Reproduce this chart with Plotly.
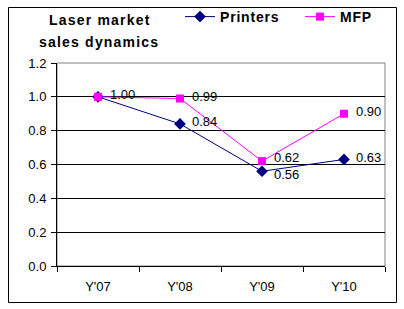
import plotly.graph_objects as go

categories = ["Y'07", "Y'08", "Y'09", "Y'10"]
printers = [1.00, 0.84, 0.56, 0.63]
mfp = [1.00, 0.99, 0.62, 0.90]
printers_labels = ["", "0.84", "0.56", "0.63"]
mfp_labels = ["1.00", "0.99", "0.62", "0.90"]
y_ticks = [0.0, 0.2, 0.4, 0.6, 0.8, 1.0, 1.2]

FONT = "Liberation Sans, Arial, sans-serif"

def spaced(s, ls=1.2):
    return '<span style="letter-spacing:%spx">%s</span>' % (ls, s)

fig = go.Figure()
fig.add_trace(go.Scatter(
    x=categories, y=printers, name=spaced("Printers", 0.8), mode="lines+markers",
    line=dict(color="#000080", width=1),
    marker=dict(symbol="diamond", size=9, color="#000080"),
    cliponaxis=False,
))
fig.add_trace(go.Scatter(
    x=categories, y=mfp, name=spaced("MFP", 0.8), mode="lines+markers",
    line=dict(color="#FF00FF", width=1),
    marker=dict(symbol="square", size=8, color="#FF00FF"),
    cliponaxis=False,
))

L, R, T, B = 57, 19, 63, 43
W, H = 404, 309
pw, ph = W - L - R, H - T - B

def px_x(p):
    return (p - L) / pw

def px_y(p):
    return (H - B - p) / ph

annotations = []
label_font = dict(family=FONT, size=13, color="black")
for i, (c, v, t) in enumerate(zip(categories, printers, printers_labels)):
    if t:
        ys = -3 if i == 2 else 2
        annotations.append(dict(x=c, y=v, xref="x", yref="y", text=t, showarrow=False,
                                xanchor="left", yanchor="middle", xshift=10, yshift=ys,
                                font=label_font))
for i, (c, v, t) in enumerate(zip(categories, mfp, mfp_labels)):
    if t:
        ys = 4 if i == 2 else 2
        annotations.append(dict(x=c, y=v, xref="x", yref="y", text=t, showarrow=False,
                                xanchor="left", yanchor="middle", xshift=10, yshift=ys,
                                font=label_font))

title_font = dict(family=FONT, size=14, color="black", weight="bold")
annotations.append(dict(text=spaced("Laser market"), xref="paper", yref="paper",
                        x=px_x(100), y=px_y(20), xanchor="center", yanchor="middle",
                        showarrow=False, font=title_font))
annotations.append(dict(text=spaced("sales dynamics"), xref="paper", yref="paper",
                        x=px_x(99), y=px_y(42), xanchor="center", yanchor="middle",
                        showarrow=False, font=title_font))

fig.update_layout(
    width=W, height=H,
    margin=dict(l=L, r=R, t=T, b=B, autoexpand=False),
    paper_bgcolor="white", plot_bgcolor="white",
    font=dict(family=FONT, size=13, color="black"),
    showlegend=True,
    legend=dict(
        orientation="h", xref="container", yref="container",
        x=180 / W, y=(H - 17) / H, xanchor="left", yanchor="middle",
        font=dict(family=FONT, size=14, color="black", weight="bold"),
        bgcolor="rgba(0,0,0,0)", itemwidth=30, tracegroupgap=0,
        entrywidth=75, entrywidthmode="pixels",
    ),
    xaxis=dict(
        type="category", range=[-0.5, 3.5],
        showline=True, linecolor="black", linewidth=1,
        ticks="outside", tickson="boundaries", ticklen=5, tickcolor="black",
        showgrid=False, zeroline=False, ticklabelstandoff=8,
        tickfont=dict(family=FONT, size=13, color="black"),
    ),
    yaxis=dict(
        range=[0, 1.2], tickvals=y_ticks, tickformat=".1f",
        showline=True, linecolor="black", linewidth=1,
        ticks="outside", ticklen=5, tickcolor="black",
        showgrid=True, gridcolor="black", gridwidth=1, zeroline=False,
        ticklabelstandoff=2,
        tickfont=dict(family=FONT, size=13, color="black"),
    ),
    shapes=[
        dict(type="rect", xref="paper", yref="paper", x0=0, x1=1, y0=0, y1=1,
             line=dict(color="#808080", width=1), layer="below"),
        dict(type="rect", xref="paper", yref="paper",
             x0=px_x(8.5), x1=px_x(396.5), y0=px_y(302.5), y1=px_y(7.5),
             line=dict(color="black", width=1)),
    ],
    annotations=annotations,
)

fig.write_html("out.html")
